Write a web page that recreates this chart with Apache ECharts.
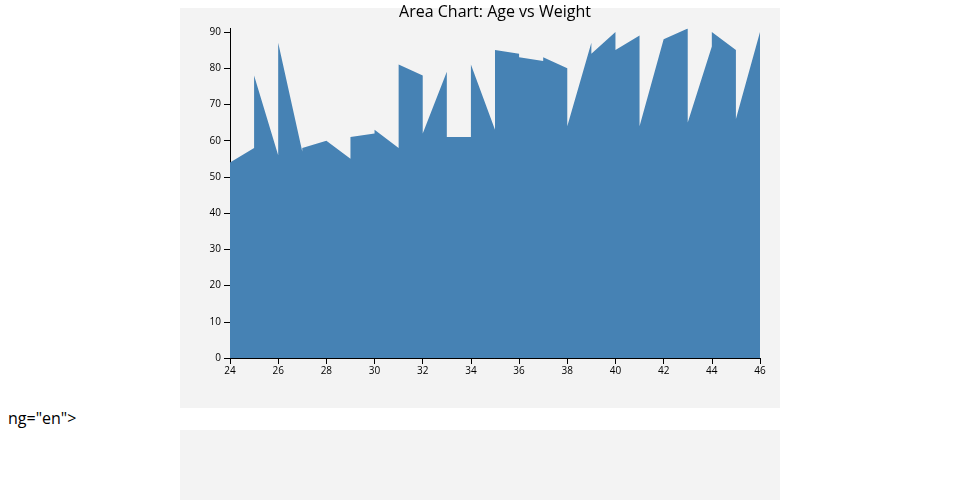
<!DOCTYPE html>
<html lang="en">
<head>
<meta charset="utf-8">
<script src="https://cdn.jsdelivr.net/npm/echarts@6/dist/echarts.min.js"></script>
<style>
  html, body { margin: 0; padding: 0; background: #fff; }
  body { width: 960px; height: 500px; position: relative; overflow: hidden; font-family: "Open Sans", sans-serif; }
  .panel { position: absolute; left: 180px; width: 600px; background: #f3f3f3; }
  #stray { position: absolute; left: 8px; top: 407px; font-size: 16px; color: #000; line-height: 22px; }
  #chart { position: absolute; left: 0; top: 0; width: 960px; height: 500px; }
</style>
</head>
<body>
<div class="panel" style="top:8px;height:400px;"></div>
<div class="panel" style="top:430px;height:80px;"></div>
<div id="stray">ng="en"&gt;</div>
<div id="chart"></div>
<script>
const chartTitle = 'Area Chart: Age vs Weight';
const ages =    [24, 25, 25, 26, 26, 27, 27, 28, 29, 29, 30, 30, 31, 31, 32, 32, 33, 33, 34, 34, 35, 35, 36, 36, 37, 37, 38, 38, 39, 39, 40, 40, 41, 41, 42, 43, 43, 44, 44, 45, 45, 46];
const weights = [54, 58, 78, 56, 87, 57, 58, 60, 55, 61, 62, 63, 58, 81, 78, 62, 79, 61, 61, 81, 63, 85, 84, 83, 82, 83, 80, 64, 87, 84, 90, 85, 89, 64, 88, 91, 65, 86, 90, 85, 66, 90];
const xTicks = [24, 26, 28, 30, 32, 34, 36, 38, 40, 42, 44, 46];
const yTicks = [0, 10, 20, 30, 40, 50, 60, 70, 80, 90];

const points = ages.map((a, i) => [a, weights[i]]);
const yMax = Math.max.apply(null, weights);

const chart = echarts.init(document.getElementById('chart'), null, { renderer: 'canvas' });
const axisCommon = {
  axisLine: { show: true, lineStyle: { color: '#000', width: 1 } },
  axisTick: { show: true, length: 6, lineStyle: { color: '#000' } },
  splitLine: { show: false },
  axisLabel: { color: '#000', fontSize: 10, fontFamily: 'Open Sans' }
};
chart.setOption({
  backgroundColor: 'transparent',
  animation: false,
  graphic: [{
    type: 'text', x: 495, y: 12,
    style: { text: chartTitle, x: 0, y: 0, textAlign: 'center', textVerticalAlign: 'middle',
             font: '16px "Open Sans"', fill: '#000' }
  }],
  grid: { left: 230, right: 200, top: 358 - yMax * (326 / 90), bottom: 142, containLabel: false },
  xAxis: Object.assign({}, axisCommon, {
    type: 'value', min: xTicks[0], max: xTicks[xTicks.length - 1], interval: 2,
    axisLabel: Object.assign({}, axisCommon.axisLabel, { margin: 8 })
  }),
  yAxis: Object.assign({}, axisCommon, {
    type: 'value', min: yTicks[0], max: yMax, interval: 10,
    axisLabel: Object.assign({}, axisCommon.axisLabel, { margin: 9, showMaxLabel: false,
      formatter: v => (yTicks.indexOf(v) >= 0 ? String(v) : '') })
  }),
  series: [{
    type: 'line',
    data: points,
    showSymbol: false,
    symbol: 'none',
    lineStyle: { width: 0 },
    areaStyle: { color: '#4682b4', opacity: 1 },
    itemStyle: { color: '#4682b4' },
    z: 1
  }]
});
</script>
</body>
</html>
